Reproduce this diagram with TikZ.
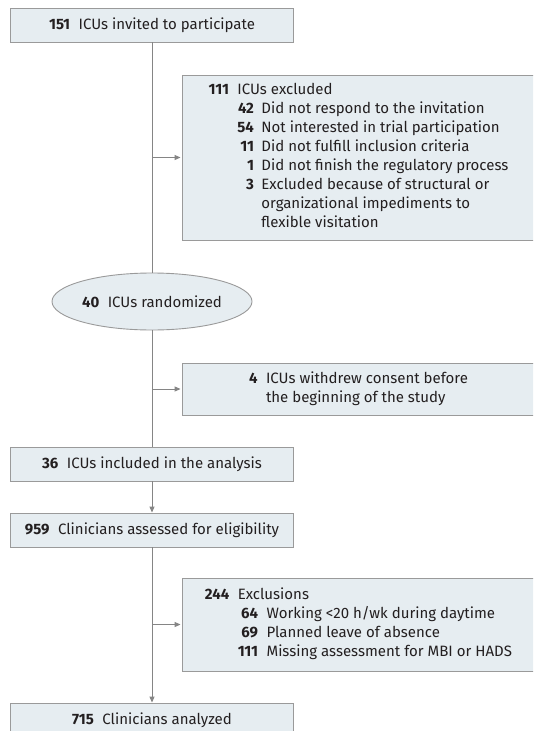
\documentclass[tikz,border=0pt]{standalone}
\usepackage{fontspec}
\setmainfont{Fira Sans}
\usetikzlibrary{arrows.meta,shapes.geometric}
\definecolor{boxfill}{HTML}{E6EDF1}
\definecolor{boxline}{HTML}{9A9A9A}
\definecolor{conn}{HTML}{858585}
\definecolor{txt}{HTML}{231F20}
\newcommand{\gapA}{\hspace{8.5pt}}
\newcommand{\gapB}{\hspace{7.5pt}}
\begin{document}
\begin{tikzpicture}[x=1pt,y=-1pt,
  every node/.style={text=txt,font=\fontsize{15}{19}\selectfont},
  flowbox/.style={draw=boxline,fill=boxfill,line width=0.9pt,rectangle,inner sep=0pt,anchor=center},
  flowell/.style={draw=boxline,fill=boxfill,line width=0.9pt,ellipse,inner sep=0pt,minimum width=200pt,minimum height=57pt},
  conline/.style={draw=conn,line width=1pt},
  conarrow/.style={draw=conn,line width=1pt,-{Triangle[length=6pt,width=5pt]}}]
\useasboundingbox (0,0) rectangle (533,731);
\clip (0,0) rectangle (533,731);
\fill[white] (0,0) rectangle (533,731);

\node[flowbox,minimum width=283pt,minimum height=34pt] (b1) at (152,25) {\textbf{151}\gapA ICUs invited to participate};

\node[flowbox,minimum width=353pt,minimum height=165pt] (b2) at (358.5,157.5) {%
\begin{tabular}{@{}r@{\gapA}r@{\gapB}l@{}}
\textbf{111} & \multicolumn{2}{@{}l@{}}{ICUs excluded}\\
 & \textbf{42} & Did not respond to the invitation\\
 & \textbf{54} & Not interested in trial participation\\
 & \textbf{11} & Did not fulfill inclusion criteria\\
 & \textbf{1} & Did not finish the regulatory process\\
 & \textbf{3} & Excluded because of structural or\\
 & & organizational impediments to\\
 & & flexible visitation
\end{tabular}};

\node[flowell] (e) at (152,301.5) {\textbf{40}\gapA ICUs randomized};

\node[flowbox,minimum width=353pt,minimum height=52pt] (b3) at (358.5,389) {%
\begin{tabular}{@{}r@{\gapA}l@{}}
\textbf{4} & ICUs withdrew consent before\\
 & the beginning of the study
\end{tabular}};

\node[flowbox,minimum width=283pt,minimum height=34pt] (b4) at (152,464) {\textbf{36}\gapA ICUs included in the analysis};

\node[flowbox,minimum width=283pt,minimum height=34pt] (b5) at (152,530) {\textbf{959}\gapA Clinicians assessed for eligibility};

\node[flowbox,minimum width=353pt,minimum height=93pt] (b6) at (358.5,624.5) {%
\begin{tabular}{@{}r@{\gapA}r@{\gapA}l@{}}
\textbf{244} & \multicolumn{2}{@{}l@{}}{Exclusions}\\
 & \textbf{64} & Working <20 h/wk during daytime\\
 & \textbf{69} & Planned leave of absence\\
 & \textbf{111} & Missing assessment for MBI or HADS
\end{tabular}};

\node[flowbox,minimum width=283pt,minimum height=34pt] (b7) at (152,720) {\textbf{715}\gapA Clinicians analyzed};

\coordinate (s1) at (b2.west -| b1.south);
\coordinate (s2) at (b3.west -| b1.south);
\coordinate (s3) at (b6.west -| b1.south);

\draw[conline] (b1.south) -- (e.north);
\draw[conline] (e.south) -- (b4.north);
\draw[conarrow] (b4.south) -- (b5.north);
\draw[conarrow] (b5.south) -- (b7.north);
\draw[conarrow] (s1) -- ([xshift=-1pt]b2.west);
\draw[conarrow] (s2) -- ([xshift=-1pt]b3.west);
\draw[conarrow] (s3) -- ([xshift=-1pt]b6.west);
\end{tikzpicture}
\end{document}
